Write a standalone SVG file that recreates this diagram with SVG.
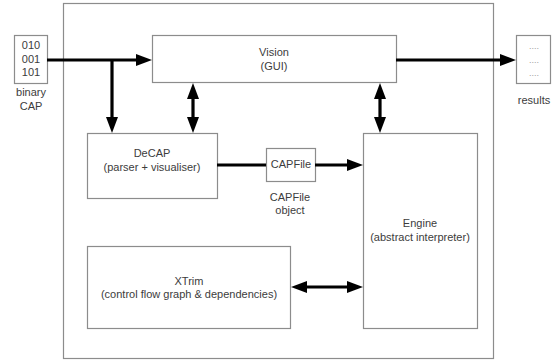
<svg xmlns="http://www.w3.org/2000/svg" width="559" height="362" viewBox="0 0 559 362">
<style>
.box{fill:#fff;stroke:#8c8c8c;stroke-width:1.2}
.t{font-family:"Liberation Sans",Arial,sans-serif;font-size:11px;fill:#3c3c3c;text-anchor:middle}
.dots{font-family:"Liberation Sans",Arial,sans-serif;font-size:9px;fill:#a0a0a0;text-anchor:middle}
.c{stroke:#000;stroke-width:3.2;fill:none}
.a{marker-end:url(#ah)}
.d{marker-start:url(#ah);marker-end:url(#ah)}
</style>
<defs>
<marker id="ah" viewBox="0 0 16 12" markerWidth="16" markerHeight="12" refX="1" refY="6" markerUnits="userSpaceOnUse" orient="auto-start-reverse">
<path d="M0,0 L16,6 L0,12 z" fill="#000"/>
</marker>
</defs>
<rect id="frame" x="63.5" y="3.5" width="430" height="355" fill="#fff" stroke="#8c8c8c" stroke-width="1.2"/>
<g id="binary">
<rect class="box" x="14.5" y="35.5" width="33" height="48"/>
<text class="t" x="31" y="49">010</text>
<text class="t" x="31" y="63">001</text>
<text class="t" x="31" y="76">101</text>
<text class="t" x="31" y="96">binary</text>
<text class="t" x="31" y="110">CAP</text>
</g>
<g id="results">
<rect class="box" x="516.5" y="35.5" width="34" height="48"/>
<text class="dots" x="534" y="49">....</text>
<text class="dots" x="534" y="63">....</text>
<text class="dots" x="534" y="76">....</text>
<text class="t" x="534" y="104">results</text>
</g>
<g id="vision">
<rect class="box" x="152.5" y="35.5" width="244" height="47"/>
<text class="t" x="274" y="56">Vision</text>
<text class="t" x="274" y="70">(GUI)</text>
</g>
<g id="decap">
<rect class="box" x="87.5" y="133.5" width="130" height="65"/>
<text class="t" x="152" y="157">DeCAP</text>
<text class="t" x="152" y="171">(parser + visualiser)</text>
</g>
<g id="capfile">
<rect class="box" x="266.5" y="148.5" width="49" height="33"/>
<text class="t" x="291" y="168">CAPFile</text>
<text class="t" x="290" y="201">CAPFile</text>
<text class="t" x="290" y="214">object</text>
</g>
<g id="engine">
<rect class="box" x="363.5" y="133.5" width="114" height="195"/>
<text class="t" x="420" y="227">Engine</text>
<text class="t" x="420" y="241">(abstract interpreter)</text>
</g>
<g id="xtrim">
<rect class="box" x="87.5" y="246.5" width="203" height="82"/>
<text class="t" x="189" y="285">XTrim</text>
<text class="t" x="189" y="298">(control flow graph &amp; dependencies)</text>
</g>
<g id="connectors">
<line class="c a" x1="47" y1="60" x2="137" y2="60"/>
<line class="c a" x1="112" y1="60" x2="112" y2="118"/>
<line class="c d" x1="193" y1="98" x2="193" y2="118"/>
<line class="c d" x1="380" y1="98" x2="380" y2="118"/>
<line class="c a" x1="396" y1="60" x2="501" y2="60"/>
<line class="c" x1="217" y1="165" x2="266" y2="165"/>
<line class="c a" x1="315" y1="165" x2="348" y2="165"/>
<line class="c d" x1="306" y1="287" x2="348" y2="287"/>
</g>
</svg>
